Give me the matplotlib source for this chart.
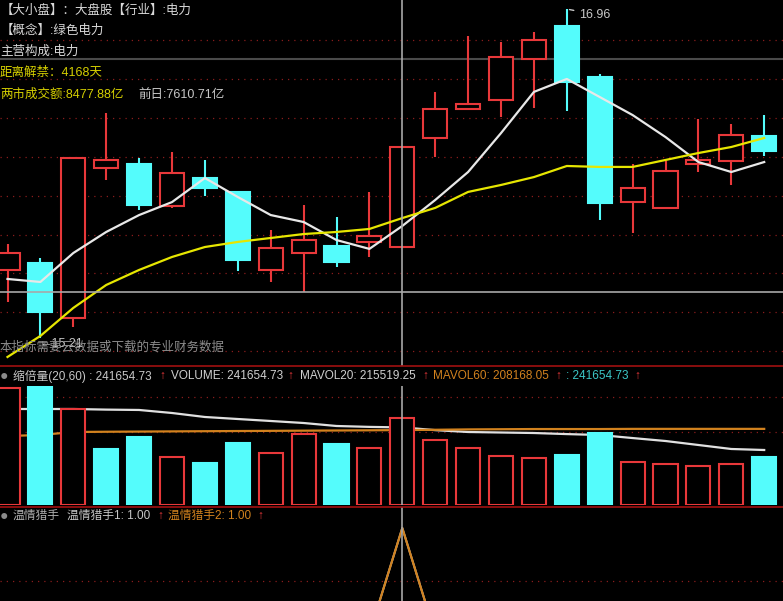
import matplotlib
matplotlib.use("Agg")
import matplotlib.pyplot as plt
from matplotlib.patches import Rectangle

# ── Palette ────────────────────────────────────────────────────────────────
BG      = "#000000"
UP      = "#e8383a"
DOWN    = "#54fcfc"
GRID    = "#8a1c1c"
SEP     = "#a01010"
MA5_C   = "#e8e8e8"
MA20_C  = "#e6e600"
VMA20_C = "#e0e0e0"
VMA60_C = "#d2821e"
TXT     = "#d8d8d8"
MUTED   = "#8c8c8c"
YEL     = "#d6d000"
CROSS   = "#a8a8a8"

FONT = ["Liberation Sans", "Noto Sans CJK SC", "DejaVu Sans"]
plt.rcParams["font.family"] = FONT

# ── Data ───────────────────────────────────────────────────────────────────
opens  = [15.572, 15.609, 15.316, 16.114, 16.136, 15.912, 16.061, 15.987,
          15.572, 15.662, 15.699, 15.721, 15.694, 16.274, 16.428, 16.476,
          16.694, 16.870, 16.598, 15.934, 15.902, 16.136, 16.152, 16.284]
highs  = [15.710, 15.636, 16.173, 16.407, 16.167, 16.199, 16.157, 15.990,
          15.784, 15.918, 15.854, 15.987, 16.226, 16.519, 16.816, 16.784,
          16.838, 16.960, 16.614, 16.136, 16.152, 16.375, 16.348, 16.396]
lows   = [15.402, 15.210, 15.269, 16.050, 15.891, 15.902, 15.965, 15.566,
          15.508, 15.455, 15.588, 15.641, 15.694, 16.173, 16.423, 16.386,
          16.434, 16.418, 15.838, 15.769, 15.896, 16.093, 16.024, 16.178]
closes = [15.662, 15.348, 16.167, 16.157, 15.918, 16.088, 16.008, 15.625,
          15.689, 15.731, 15.614, 15.753, 16.226, 16.428, 16.455, 16.705,
          16.795, 16.572, 15.928, 16.008, 16.098, 16.157, 16.290, 16.205]

ma5  = [15.524, 15.508, 15.662, 15.774, 15.864, 15.933, 16.061, 15.960,
        15.864, 15.827, 15.731, 15.684, 15.806, 15.944, 16.093, 16.300,
        16.519, 16.588, 16.492, 16.396, 16.279, 16.146, 16.093, 16.146]
ma20 = [15.109, 15.221, 15.370, 15.492, 15.572, 15.641, 15.694, 15.721,
        15.742, 15.763, 15.774, 15.790, 15.848, 15.902, 15.987, 16.024,
        16.066, 16.125, 16.120, 16.120, 16.157, 16.194, 16.226, 16.274]

price_grid = [16.795, 16.588, 16.380, 16.173, 15.965, 15.758, 15.556, 15.348, 15.141]
ref_price = 16.694
cross_price = 15.455
cross_idx = 12
hi_idx, hi_val = 17, 16.96
lo_idx, lo_val = 1, 15.21

volume = [326000, 330600, 266700, 155600, 188900, 133300, 116700, 172200,
          144500, 197200, 169500, 158300, 241654.73, 180600, 158300, 136100,
          130600, 138900, 200000, 119500, 113900, 108300, 113900, 133300]
vol_up = [1, 0, 1, 0, 0, 1, 0, 0, 1, 1, 0, 1, 1, 1, 1, 1, 1, 0, 0, 1, 1, 1, 1, 0]
mavol20 = [266700, 266700, 266700, 265000, 264000, 255600, 244500, 238900,
           233400, 227800, 219500, 217000, 215519.25, 208000, 202800, 201400,
           200000, 197000, 194500, 186000, 177800, 166700, 155600, 152800]
mavol60 = [191700, 194500, 202800, 203500, 204000, 204500, 205000, 205500,
           206000, 206500, 207000, 207500, 208168.05, 209000, 210000, 210500,
           211000, 211000, 211000, 211500, 211500, 211500, 211500, 211500]
vol_grid = [300000, 202000]

hunter1 = [0, 0, 0, 0, 0, 0, 0, 0, 0, 0, 0, 0, 1, 0, 0, 0, 0, 0, 0, 0, 0, 0, 0, 0]
hunter2 = [0, 0, 0, 0, 0, 0, 0, 0, 0, 0, 0, 0, 1, 0, 0, 0, 0, 0, 0, 0, 0, 0, 0, 0]

# ── Layout (pixel rows of the 783x601 canvas) ──────────────────────────────
W, H = 783, 601
STEP = 32.9
X0 = 7.5


def box(top, bottom):
    return [0, 1 - bottom / H, 1, (bottom - top) / H]


def ftxt(x, y, s, color=TXT, size=9, **kw):
    fig.text(x / W, 1 - y / H, s, color=color, fontsize=size, va="center",
             ha="left", family=FONT, **kw)


fig = plt.figure(figsize=(W / 100, H / 100), dpi=100, facecolor=BG)
ax_p = fig.add_axes(box(0, 366))
ax_v = fig.add_axes(box(386, 505))
ax_i = fig.add_axes(box(507, 601))
xlim = (-X0 / STEP, (W - X0) / STEP)
for ax in (ax_p, ax_v, ax_i):
    ax.set_facecolor(BG)
    ax.set_xlim(*xlim)
    ax.axis("off")
    ax.axvline(cross_idx, color=CROSS, lw=1.2, zorder=6)

# ── Price panel ────────────────────────────────────────────────────────────
ax_p.set_ylim(15.061, 17.008)
for lv in price_grid:
    ax_p.axhline(lv, color=GRID, lw=0.9, ls=(0, (1, 4)), zorder=0)
ax_p.axhline(ref_price, color="#4a4a4a", lw=1.5, zorder=1)
ax_p.axhline(cross_price, color=CROSS, lw=1.2, zorder=6)

bw = 0.73
for i, (o, h, l, c) in enumerate(zip(opens, highs, lows, closes)):
    up = c >= o
    col = UP if up else DOWN
    ax_p.vlines(i, l, h, color=col, lw=1.5, zorder=2)
    lo_b, hi_b = min(o, c), max(o, c)
    ax_p.add_patch(Rectangle((i - bw / 2, lo_b), bw, max(hi_b - lo_b, 0.004),
                             facecolor=BG if up else DOWN, edgecolor=col,
                             lw=1.5, zorder=3))

xs = list(range(len(closes)))
ax_p.plot(xs, ma5, color=MA5_C, lw=1.6, zorder=4)
ax_p.plot(xs, ma20, color=MA20_C, lw=1.6, zorder=4)

ax_p.annotate(f"{hi_val:.2f}", xy=(hi_idx, hi_val), xytext=(9, -4),
              textcoords="offset points", color="#c8c8c8", fontsize=9,
              va="center", arrowprops=dict(arrowstyle="-", color="#c8c8c8", lw=1))
ax_p.annotate(f"\u2190{lo_val:.2f}", xy=(lo_idx, lo_val), xytext=(-1, -4),
              textcoords="offset points", color="#c8c8c8", fontsize=9,
              va="center", ha="left", zorder=7)

# ── Volume panel ───────────────────────────────────────────────────────────
ax_v.set_ylim(0, 330600)
for lv in vol_grid:
    ax_v.axhline(lv, color=GRID, lw=0.9, ls=(0, (1, 4)), zorder=0)
ax_v.plot(xs, mavol20, color=VMA20_C, lw=1.6, zorder=1)
ax_v.plot(xs, mavol60, color=VMA60_C, lw=1.6, zorder=1)
for i, (v, u) in enumerate(zip(volume, vol_up)):
    col = UP if u else DOWN
    ax_v.add_patch(Rectangle((i - bw / 2, 0), bw, v, facecolor=BG if u else DOWN,
                             edgecolor=col, lw=1.5, zorder=3))

# ── Indicator panel ────────────────────────────────────────────────────────
ax_i.set_ylim(0.311, 1.198)
ax_i.axhline(0.5, color=GRID, lw=0.9, ls=(0, (1, 4)), zorder=0)
ax_i.plot(xs, hunter1, color="#bbbbbb", lw=1.5, zorder=2)
ax_i.plot(xs, hunter2, color=VMA60_C, lw=1.5, zorder=3)

# ── Separators ─────────────────────────────────────────────────────────────
for yy in (366, 507):
    fig.add_artist(plt.Line2D([0, 1], [1 - yy / H] * 2, color=SEP, lw=1.2))

# ── Text overlays ──────────────────────────────────────────────────────────
ftxt(1, 11, "【大小盘】：大盘股【行业】:电力")
ftxt(1, 31, "【概念】:绿色电力")
ftxt(0, 52, "主营构成:电力")
ftxt(0, 73, "距离解禁：4168天", color=YEL)
ftxt(0, 95, "两市成交额:8477.88亿", color=YEL)
ftxt(138, 95, "前日:7610.71亿", color="#c8c8c8")
ftxt(0, 347, "本指标需要云数据或下载的专业财务数据", color=MUTED)

ARROW = "\u2191"
HS = 8.5
ftxt(0, 376, "\u25cf", color="#8a8a8a", size=10)
ftxt(13, 376, "缩倍量(20,60) : 241654.73", color="#c8c8c8", size=HS)
ftxt(159, 376, ARROW, color=UP, size=HS)
ftxt(171, 376, "VOLUME: 241654.73", color="#d0d0d0", size=HS)
ftxt(287, 376, ARROW, color=UP, size=HS)
ftxt(300, 376, "MAVOL20: 215519.25", color="#d0d0d0", size=HS)
ftxt(422, 376, ARROW, color=UP, size=HS)
ftxt(433, 376, "MAVOL60: 208168.05", color=VMA60_C, size=HS)
ftxt(555, 376, ARROW, color=UP, size=HS)
ftxt(566, 376, ": 241654.73", color="#3cc8c8", size=HS)
ftxt(634, 376, ARROW, color=UP, size=HS)

ftxt(0, 516, "\u25cf", color="#8a8a8a", size=10)
ftxt(13, 516, "温情猎手", color="#b0b0b0", size=HS)
ftxt(67, 516, "温情猎手1: 1.00", color="#c8c8c8", size=HS)
ftxt(157, 516, ARROW, color=UP, size=HS)
ftxt(168, 516, "温情猎手2: 1.00", color=VMA60_C, size=HS)
ftxt(257, 516, ARROW, color=UP, size=HS)

fig.savefig("out.png", dpi=100, facecolor=BG)
